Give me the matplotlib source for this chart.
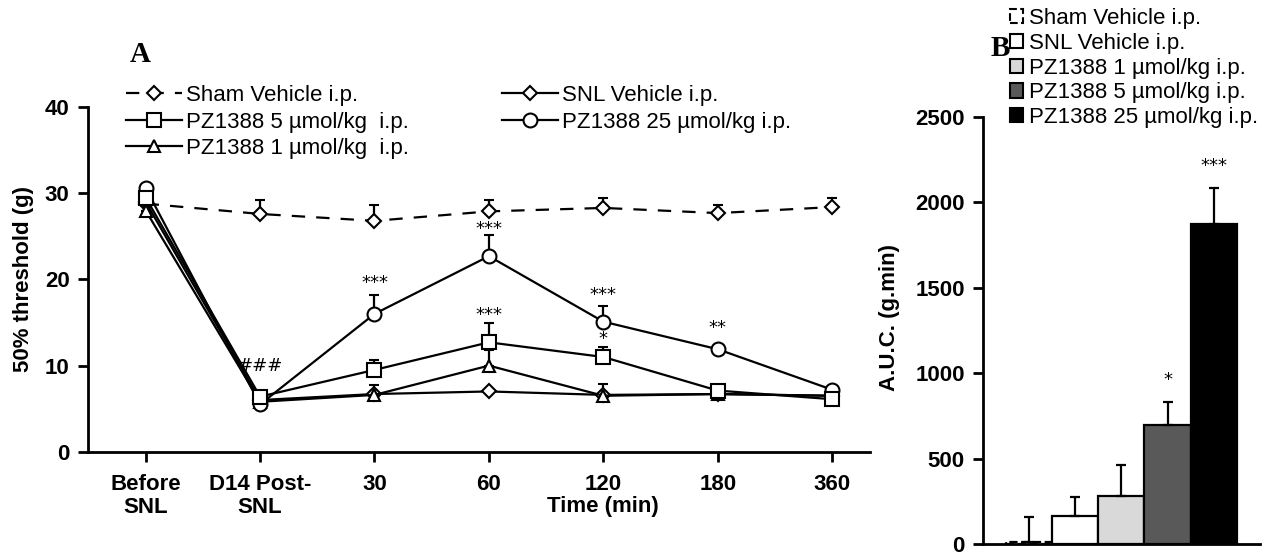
import numpy as np
import matplotlib
matplotlib.use('Agg')
import matplotlib.pyplot as plt
from matplotlib.patches import Patch
from matplotlib.lines import Line2D

plt.rcParams['font.family'] = ['Liberation Sans', 'DejaVu Sans']

# panel A: 50% threshold (g) over time
time_labels = ['Before\nSNL', 'D14 Post-\nSNL', '30', '60', '120', '180', '360']

sham_mean = [28.8, 27.6, 26.8, 27.9, 28.3, 27.7, 28.4]
sham_err = [0.0, 1.6, 1.8, 1.3, 1.1, 0.9, 1.0]
snl_mean = [29.0, 6.0, 6.7, 7.0, 6.6, 6.7, 6.5]
snl_err = [0.0, 0.0, 0.0, 0.0, 0.0, 0.0, 0.0]
pz1_mean = [28.0, 5.8, 6.6, 10.0, 6.5, 6.7, 6.5]
pz1_err = [0.0, 0.0, 1.1, 1.8, 1.4, 0.0, 0.0]
pz5_mean = [29.5, 6.4, 9.5, 12.7, 11.0, 7.1, 6.1]
pz5_err = [0.0, 0.0, 1.2, 2.2, 1.2, 0.0, 0.0]
pz25_mean = [30.6, 5.5, 16.0, 22.7, 15.1, 11.9, 7.2]
pz25_err = [0.0, 0.0, 2.2, 2.5, 1.8, 0.0, 0.0]

# significance marks: (time index, y value, text)
marks_a = [(1, 10.0, '###'), (2, 19.6, '***'), (3, 25.9, '***'), (3, 15.9, '***'),
           (4, 18.2, '***'), (4, 13.1, '*'), (5, 14.4, '**')]

# panel B: area under curve
auc_groups = ['Sham Vehicle i.p.', 'SNL Vehicle i.p.', 'PZ1388 1 µmol/kg i.p.',
              'PZ1388 5 µmol/kg i.p.', 'PZ1388 25 µmol/kg i.p.']
auc_mean = [10, 165, 280, 695, 1875]
auc_err = [150, 110, 180, 135, 210]
auc_colors = ['white', 'white', '#d9d9d9', '#595959', 'black']
auc_marks = ['', '', '', '*', '***']

fig = plt.figure(figsize=(12.7, 5.55), dpi=100)
ax = fig.add_axes([0.069, 0.186, 0.616, 0.621])
x = np.arange(len(time_labels))

handles = {}
def series(mean, err, marker, ms, ls, label):
    dash = (6, 5) if ls == '--' else (None, None)
    ax.errorbar(x, mean, yerr=[np.zeros(len(err)), err], color='black', lw=1.6, ls=ls,
                marker=marker, ms=ms, mfc='white', mec='black', mew=1.5,
                ecolor='black', elinewidth=1.6, capsize=3.5, capthick=1.6, dashes=dash)
    handles[label] = Line2D([], [], color='black', lw=1.6, ls=ls, dashes=dash,
                            marker=marker, ms=ms, mfc='white', mec='black', mew=1.5)

series(sham_mean, sham_err, 'D', 7, '--', 'Sham Vehicle i.p.')
series(snl_mean, snl_err, 'D', 7, '-', 'SNL Vehicle i.p.')
series(pz1_mean, pz1_err, '^', 9, '-', 'PZ1388 1 µmol/kg  i.p.')
series(pz25_mean, pz25_err, 'o', 10, '-', 'PZ1388 25 µmol/kg i.p.')
series(pz5_mean, pz5_err, 's', 10, '-', 'PZ1388 5 µmol/kg  i.p.')

for i, yv, t in marks_a:
    ax.text(i, yv, t, ha='center', va='center', fontsize=13, family='DejaVu Sans')

ax.set_xlim(-0.507, 6.33)
ax.set_ylim(0, 40)
ax.set_yticks([0, 10, 20, 30, 40])
ax.set_xticks(x)
ax.set_xticklabels(time_labels, fontweight='bold', fontsize=16, linespacing=1.1)
for lab in ax.get_yticklabels():
    lab.set_fontweight('bold')
    lab.set_fontsize(16)
ax.tick_params(direction='out', length=7, width=2, pad=6)
ax.tick_params(axis='x', pad=9)
for s in ['top', 'right']:
    ax.spines[s].set_visible(False)
for s in ['left', 'bottom']:
    ax.spines[s].set_linewidth(2)
ax.set_ylabel('50% threshold (g)', fontweight='bold', fontsize=16, labelpad=8)
ax.text(0.659, -0.16, 'Time (min)', transform=ax.transAxes, ha='center', va='center',
        fontweight='bold', fontsize=16)

order = ['Sham Vehicle i.p.', 'PZ1388 5 µmol/kg  i.p.', 'PZ1388 1 µmol/kg  i.p.',
         'SNL Vehicle i.p.', 'PZ1388 25 µmol/kg i.p.']
fig.legend([handles[o] for o in order], order, loc='upper left',
           bbox_to_anchor=(126 / 1270, 1 - 85 / 555),
           ncol=2, frameon=False, fontsize=16, handlelength=2.5, handletextpad=0.2,
           columnspacing=4.2, labelspacing=0.25, borderpad=0, borderaxespad=0, numpoints=1)

fig.text(140 / 1270, 1 - 55 / 555, 'A', fontsize=21, fontweight='bold',
         family='Liberation Serif', ha='center', va='center')

# panel B
bx = fig.add_axes([0.774, 0.02, 0.218, 0.769])
xb = np.arange(len(auc_groups))
bars = bx.bar(xb, auc_mean, width=1.0, color=auc_colors, edgecolor='black', lw=1.6)
bars[0].set_linestyle('--')
bx.errorbar(xb, auc_mean, yerr=[np.zeros(len(auc_err)), auc_err], fmt='none',
            ecolor='black', elinewidth=1.6, capsize=3.5, capthick=1.6)
for i, t in enumerate(auc_marks):
    if t:
        bx.text(xb[i], auc_mean[i] + auc_err[i] + 130, t, ha='center', va='center',
                fontsize=13, family='DejaVu Sans')
bx.set_xlim(-1, 5)
bx.set_ylim(0, 2500)
bx.set_xticks([])
bx.set_yticks([0, 500, 1000, 1500, 2000, 2500])
for lab in bx.get_yticklabels():
    lab.set_fontweight('bold')
    lab.set_fontsize(16)
bx.tick_params(direction='out', length=7, width=2, pad=6)
for s in ['top', 'right']:
    bx.spines[s].set_visible(False)
for s in ['left', 'bottom']:
    bx.spines[s].set_linewidth(2)
bx.set_ylabel('A.U.C. (g.min)', fontweight='bold', fontsize=16)
bx.yaxis.set_label_coords(-0.30, 0.53)

patches = [Patch(facecolor=c, edgecolor='black', lw=1.5) for c in auc_colors]
patches[0].set_linestyle('--')
fig.legend(patches, auc_groups, loc='upper left', bbox_to_anchor=(1010 / 1270, 1 - 8 / 555),
           frameon=False, fontsize=16, handlelength=0.6, handleheight=0.6,
           handletextpad=0.25, labelspacing=0.17, borderpad=0, borderaxespad=0)

fig.text(1000 / 1270, 1 - 48 / 555, 'B', fontsize=21, fontweight='bold',
         family='Liberation Serif', ha='center', va='center')

fig.savefig('out.png', dpi=100)
